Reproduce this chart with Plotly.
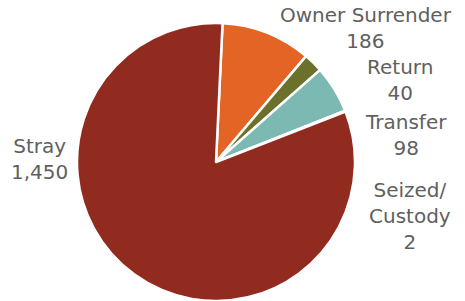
import plotly.graph_objects as go

categories = ["Owner Surrender", "Return", "Transfer", "Seized/Custody", "Stray"]
values = [186, 40, 98, 2, 1450]
label_lines = [["Owner Surrender", "186"], ["Return", "40"], ["Transfer", "98"],
               ["Seized/", "Custody", "2"], ["Stray", "1,450"]]
colors = ["#E36424", "#6B712B", "#7DB9B3", "#8FA9C9", "#922B1F"]

W, H = 465, 301
cx, cy, r = 216, 162, 139

fig = go.Figure(go.Pie(
    labels=categories, values=values, sort=False, direction="clockwise",
    rotation=2.7, textinfo="none", hoverinfo="label+value",
    marker=dict(colors=colors, line=dict(color="white", width=2.5)),
    domain=dict(x=[(cx - r) / W, (cx + r) / W], y=[1 - (cy + r) / H, 1 - (cy - r) / H]),
    showlegend=False,
))

# label anchor positions (pixel centers of each text block)
label_pos = [(366, 28), (400, 80), (406, 135), (410, 216), (39, 159)]
for lines, (px, py) in zip(label_lines, label_pos):
    fig.add_annotation(
        x=px / W, y=1 - py / H, xref="paper", yref="paper",
        text="<br>".join(lines), showarrow=False, align="center",
        font=dict(family="DejaVu Sans, sans-serif", size=20, color="#5F5F5F"),
        xanchor="center", yanchor="middle",
    )

fig.update_layout(
    width=W, height=H, margin=dict(l=0, r=0, t=0, b=0),
    paper_bgcolor="white", plot_bgcolor="white",
)
fig.write_html("out.html", config={"displayModeBar": False},
               post_script="document.body.style.margin='0';")
